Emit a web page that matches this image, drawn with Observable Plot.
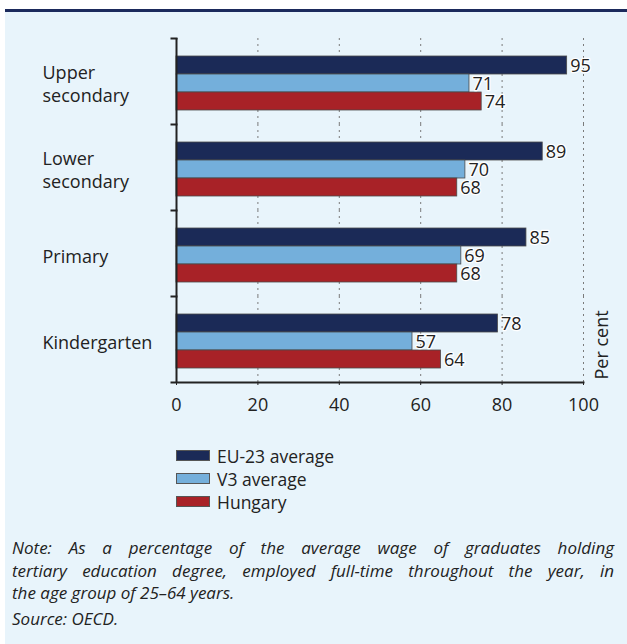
<!DOCTYPE html>
<html>
<head>
<meta charset="utf-8">
<script src="https://cdn.jsdelivr.net/npm/d3@7"></script>
<script src="https://cdn.jsdelivr.net/npm/@observablehq/plot@0.6"></script>
<style>
  html, body { margin: 0; padding: 0; background: #ffffff; }
  #page { position: relative; width: 627px; height: 644px; overflow: hidden; font-family: "Open Sans", sans-serif; color: #222; }
  #bg { position: absolute; left: 5px; top: 9px; right: 0; bottom: 0; background: #e8f4fb; border-top: 3px solid #1b2a5c; }
  #chart { position: absolute; left: 0; top: 0; }
  #legend { position: absolute; left: 176px; top: 444px; }
  .lg { display: flex; align-items: center; height: 23px; font-size: 17.5px; }
  .sw { width: 32px; height: 9px; border: 1px solid #555; margin-right: 7px; }
  #note { position: absolute; left: 12px; top: 537px; width: 602px; font-style: italic; font-size: 17px; line-height: 22.5px; }
  #note .j { text-align: justify; text-align-last: justify; white-space: nowrap; }
  #source { position: absolute; left: 12px; top: 607px; font-style: italic; font-size: 17px; }
</style>
</head>
<body>
<div id="page">
  <div id="bg"></div>
  <div id="chart"></div>
  <div id="legend"></div>
  <div id="note"></div>
  <div id="source"></div>
</div>
<script>
const categories = ["Upper secondary", "Lower secondary", "Primary", "Kindergarten"];
const categoryLabels = ["Upper\nsecondary", "Lower\nsecondary", "Primary", "Kindergarten"];
const series = ["EU-23 average", "V3 average", "Hungary"];
const eu23 = [95, 89, 85, 78];
const v3 = [71, 70, 69, 57];
const hungary = [74, 68, 68, 64];
const xTicks = [0, 20, 40, 60, 80, 100];
const gridTicks = [20, 40, 60, 80, 100];
const colors = ["#1b2a57", "#74afdb", "#a82227"];
const axisTitle = "Per cent";
const noteLines = [
  "Note: As a percentage of the average wage of graduates holding",
  "tertiary education degree, employed full-time throughout the year, in",
  "the age group of 25–64 years."
];
const sourceText = "Source: OECD.";

const seriesValues = [eu23, v3, hungary];
const rows = categories.flatMap((c, i) => series.map((s, j) => ({cat: c, series: s, value: seriesValues[j][i]})));
const labelRows = categories.map((c, i) => ({cat: c, label: categoryLabels[i]}));

const W = 627, H = 430, ML = 176, MR = 44, MT = 37, MB = 47;
const plotW = W - ML - MR;

const chart = Plot.plot({
  width: W, height: H,
  marginLeft: ML, marginRight: MR, marginTop: MT, marginBottom: MB,
  style: {background: "transparent", fontFamily: "Open Sans, sans-serif", fontSize: "18px", color: "#222", overflow: "visible"},
  x: {domain: [0, 100]},
  y: {domain: series, paddingInner: 0, paddingOuter: 0.86, align: 0.55, axis: null},
  fy: {domain: categories, padding: 0, axis: null},
  color: {domain: series, range: colors},
  marks: [
    Plot.gridX({ticks: gridTicks, stroke: "#7a7a7a", strokeOpacity: 1, strokeDasharray: "2,4", strokeWidth: 1}),
    Plot.barX(rows, {fy: "cat", y: "series", x: "value", fill: "series", stroke: "#4a4a4a", strokeWidth: 0.8, insetRight: -4}),
    Plot.ruleX([0], {stroke: "#222", strokeWidth: 2}),
    Plot.frame({anchor: "top", insetLeft: -5, insetRight: plotW, stroke: "#222", strokeWidth: 2}),
    Plot.frame({facet: "super", anchor: "bottom", insetLeft: -5, stroke: "#222", strokeWidth: 2}),
    Plot.text(rows, {fy: "cat", y: "series", x: "value", text: d => String(d.value), dx: 7, dy: 1, textAnchor: "start", fill: "#222", stroke: "white", strokeWidth: 2.5, fontSize: 18}),
    Plot.text(labelRows, {fy: "cat", text: "label", frameAnchor: "left", textAnchor: "start", dx: -134, dy: 2, lineHeight: 1.25, fontSize: 18, fill: "#222"}),
    Plot.text([axisTitle], {facet: "super", frameAnchor: "bottom-right", rotate: -90, textAnchor: "start", dx: 24, dy: -3, fontSize: 18, fill: "#222"}),
    Plot.axisX({ticks: xTicks, tickSize: 3, tickPadding: 13, fontSize: 18, label: null, stroke: "#222"})
  ]
});
document.getElementById("chart").appendChild(chart);

const legend = document.getElementById("legend");
series.forEach((s, i) => {
  const row = document.createElement("div");
  row.className = "lg";
  const sw = document.createElement("div");
  sw.className = "sw";
  sw.style.background = colors[i];
  const t = document.createElement("span");
  t.textContent = s;
  row.appendChild(sw); row.appendChild(t);
  legend.appendChild(row);
});

const note = document.getElementById("note");
noteLines.forEach((l, i) => {
  const d = document.createElement("div");
  if (i < noteLines.length - 1) d.className = "j";
  d.textContent = l;
  note.appendChild(d);
});
document.getElementById("source").textContent = sourceText;
</script>
</body>
</html>
